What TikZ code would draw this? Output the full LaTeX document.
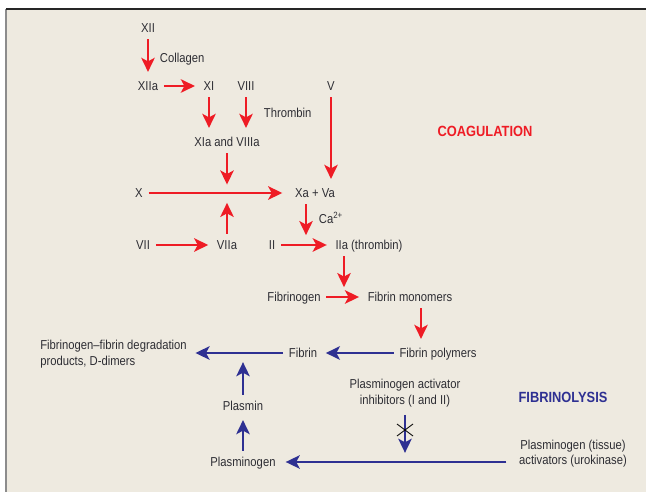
\documentclass[tikz,border=0pt]{standalone}
\usepackage{fontspec}
\setmainfont{Liberation Sans}[FakeStretch=0.87]
\usepackage{xcolor}
\usepackage{tikz}
\usetikzlibrary{arrows.meta,positioning,calc}
\definecolor{coagred}{HTML}{EE1C25}
\definecolor{fibblue}{HTML}{2E3092}
\definecolor{paper}{HTML}{EEEAE0}
\definecolor{txtgray}{HTML}{2E2E34}

\begin{document}
\begin{tikzpicture}[
    x=0.025cm, y=-0.025cm,
    font=\fontsize{9.2}{10.8}\selectfont,
    lbl/.style={text=txtgray, inner xsep=4pt, inner ysep=4.5pt, text height=6.6pt, text depth=0pt},
    rarr/.style={-{Stealth[length=10pt,width=9.5pt,inset=2.5pt]}, line width=2.1pt, draw=coagred, shorten >=2pt},
    barr/.style={rarr, draw=fibblue},
    heading/.style={font=\fontsize{10.5}{12}\selectfont\bfseries}
]
\useasboundingbox (0,0) rectangle (646,492);
\fill[paper] (6,9) rectangle (646,492);
\draw[line width=1pt, black!45] (6,9) -- (6,492);
\draw[line width=1pt, black!85] (6,9) -- (646,9);

\node[lbl] (xii) at (148,28) {XII};
\node[lbl] (xiia) at (148,86) {XIIa};
\node[lbl] (xi) at (209,86) {XI};
\node[lbl] (viii) at (246,86) {VIII};
\node[lbl] (v) at (331,86) {V};
\node[lbl] (xiviii) at (227,142) {XIa and VIIIa};
\node[lbl] (x) at (139,193) {X};
\node[lbl] (xava) at (315,193) {Xa + Va};
\node[lbl] (vii) at (143,245) {VII};
\node[lbl] (viia) at (227,245) {VIIa};
\node[lbl] (ii) at (272,245) {II};
\node[lbl] (iia) at (369,245) {IIa (thrombin)};
\node[lbl] (fibrinogen) at (294,297) {Fibrinogen};
\node[lbl] (monomers) at (410,297) {Fibrin monomers};
\node[lbl] (polymers) at (438,353) {Fibrin polymers};
\node[lbl] (fibrin) at (303,353) {Fibrin};
\node[lbl, align=left, anchor=west] (fdp) at (34.4,360.5) {Fibrinogen--fibrin degradation\\products, D-dimers};
\node[lbl] (plasmin) at (243,406) {Plasmin};
\node[lbl] (plasminogen) at (243,462) {Plasminogen};
\node[lbl, align=center] (pai) at (405,399.5) {Plasminogen activator\\inhibitors (I and II)};
\node[lbl, align=center] (tpa) at (573,460) {Plasminogen (tissue)\\activators (urokinase)};

\node[lbl, anchor=west] (collagen) at (154,58) {Collagen};
\node[lbl, anchor=west] (thrombin) at (258,113) {Thrombin};
\node[lbl, anchor=west] (ca) at (313,219) {Ca\textsuperscript{2+}};

\node[heading, text=coagred] (coag) at (485,131) {COAGULATION};
\node[heading, text=fibblue] (fibrinol) at (563,397.5) {FIBRINOLYSIS};

\coordinate (c1) at (227,193);
\coordinate (c2) at (306,245);
\coordinate (c3) at (344,297);
\coordinate (c4) at (243,353);
\coordinate (c5) at (405,462);

\draw[rarr] (xii) -- (xiia);
\draw[rarr] (xiia) -- (xi);
\draw[rarr] (xi) -- (xi |- xiviii.north);
\draw[rarr] (viii) -- (viii |- xiviii.north);
\draw[rarr] (v) -- (v |- xava.north);
\draw[rarr, shorten >=6pt] (xiviii) -- (c1);
\draw[rarr, shorten >=5pt] (x) -- (xava);
\draw[rarr, shorten >=7pt] (viia) -- (c1);
\draw[rarr] (vii) -- (viia);
\draw[rarr, shorten >=7pt] (xava.south -| c2) -- (c2);
\draw[rarr] (ii) -- (iia);
\draw[rarr, shorten >=7pt] (iia.south -| c3) -- (c3);
\draw[rarr] (fibrinogen) -- (monomers);
\draw[rarr] (monomers.south -| 421,0) -- (polymers.north -| 421,0);

\draw[barr] (polymers) -- (fibrin);
\draw[barr] (fibrin.west) -- (fibrin -| fdp.east);
\draw[barr, shorten >=6.5pt] (plasmin) -- (c4);
\draw[barr] (plasminogen) -- (plasmin);
\draw[barr, shorten <=5pt, shorten >=3pt] (plasminogen -| tpa.west) -- (plasminogen);
\draw[barr, shorten <=3pt, shorten >=6.5pt] (pai.south) -- (c5);

\draw[line width=0.6pt, black] (397,424) -- (413,436) (397,436) -- (413,424);
\end{tikzpicture}
\end{document}
